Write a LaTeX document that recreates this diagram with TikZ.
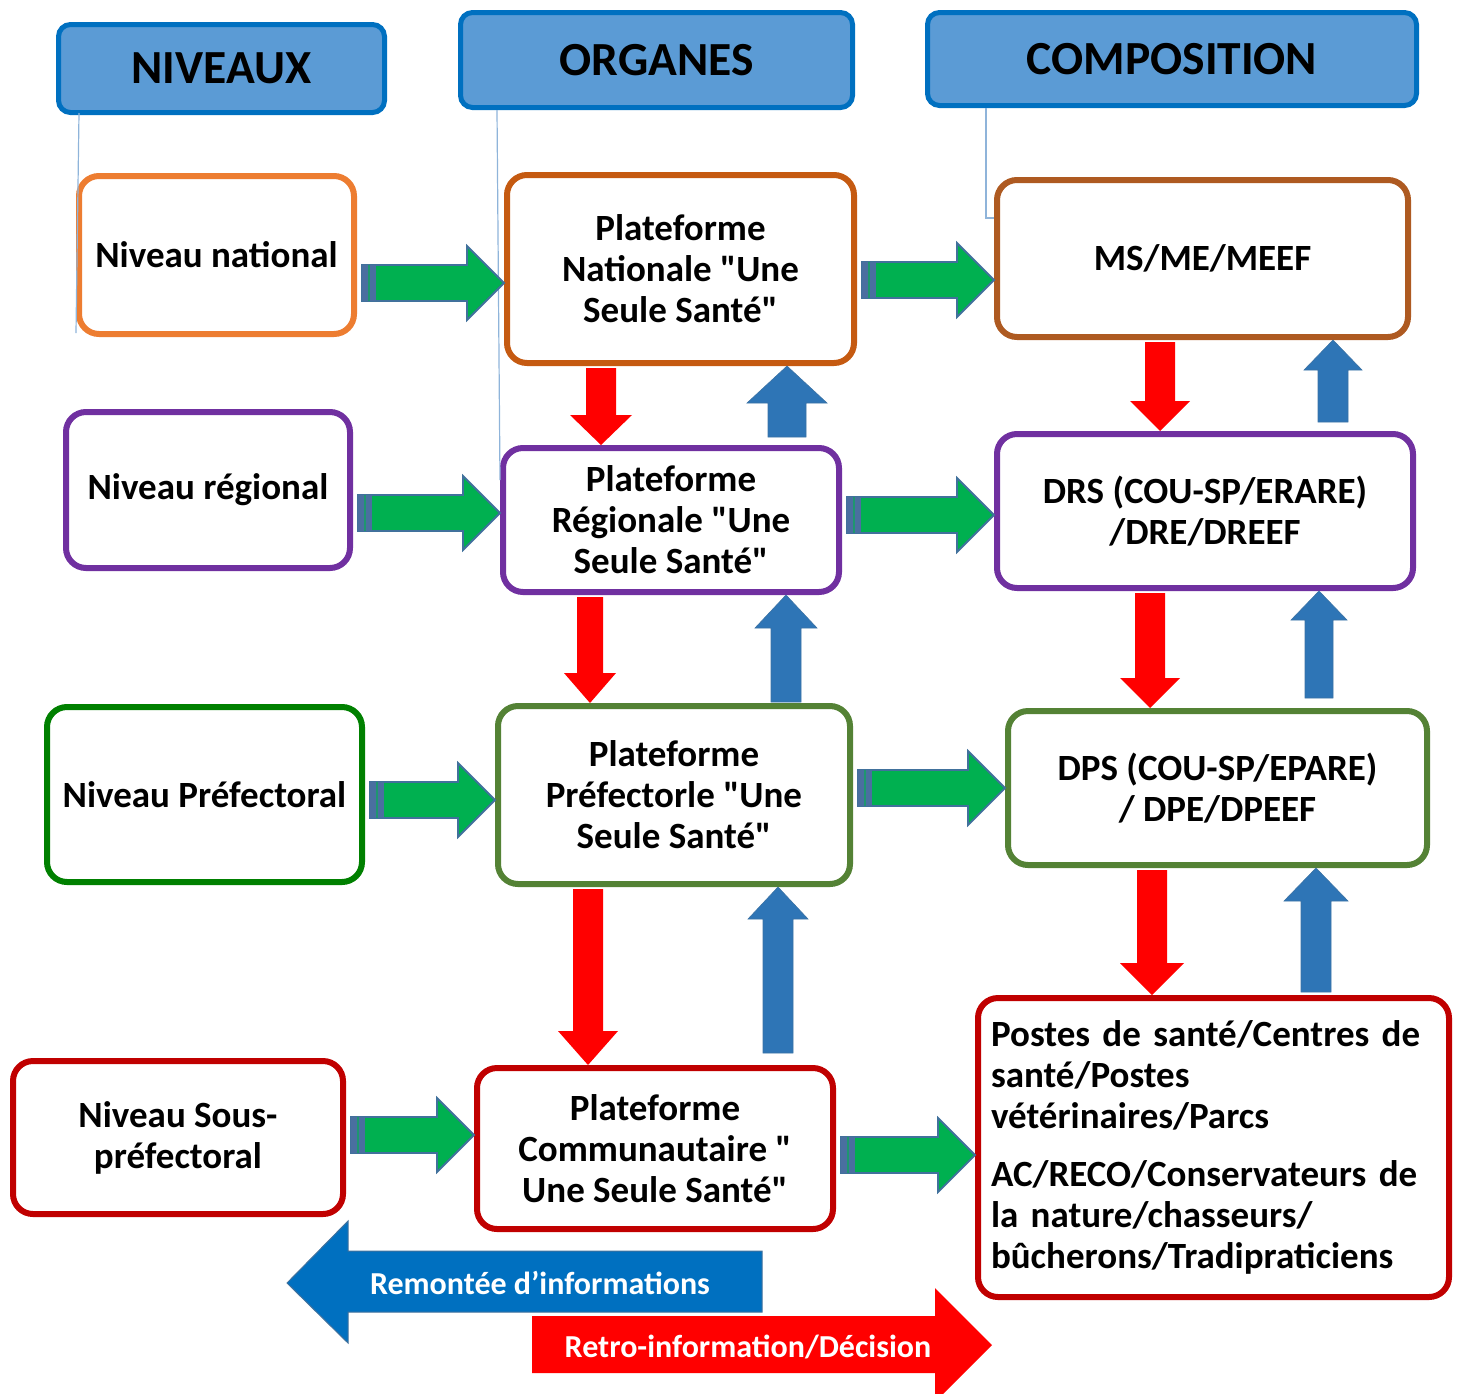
\documentclass[tikz,border=0pt]{standalone}
\usepackage{fontspec}
\setmainfont{Carlito}[Ligatures=TeXOff]
\usetikzlibrary{calc}
\definecolor{hdrfill}{HTML}{5B9BD5}
\definecolor{hdrline}{HTML}{0070C0}
\definecolor{cnat}{HTML}{ED7D31}
\definecolor{cpn}{HTML}{C55A11}
\definecolor{cms}{HTML}{AE5A21}
\definecolor{cpur}{HTML}{7030A0}
\definecolor{cgreen}{HTML}{008000}
\definecolor{colive}{HTML}{548235}
\definecolor{cred}{HTML}{C00000}
\definecolor{agreen}{HTML}{00B050}
\definecolor{aedge}{HTML}{41719C}
\definecolor{atail}{HTML}{4A6FA0}
\definecolor{ablue}{HTML}{2E75B6}
\definecolor{lblue}{HTML}{0070C0}
\definecolor{thinl}{HTML}{8FB4DA}
\newcommand\garr[3]{%
  \coordinate (gA) at ($(#1.east |- 0,#3)+(5,0)$);
  \coordinate (gB) at (#2.west |- 0,#3);
  \filldraw[garrow] ($(gA)+(0,-18)$) -- ($(gB)+(-37,-18)$) -- ($(gB)+(-37,-37)$) -- (gB)
     -- ($(gB)+(-37,37)$) -- ($(gB)+(-37,18)$) -- ($(gA)+(0,18)$) -- cycle;
  \fill[atail] ($(gA)+(0,-18)$) rectangle ($(gA)+(14,18)$);
  \draw[agreen!60!atail, line width=1.5pt] ($(gA)+(7,-18)$) -- ($(gA)+(7,18)$);
}
% red down: src tgt x shafthalf headhalf headlen
\newcommand\darr[6]{%
  \coordinate (vA) at ($(#1.south -| #3,0)+(0,2)$);
  \coordinate (vB) at (#2.north -| #3,0);
  \fill[red] ($(vA)+(-#4,0)$) -- ($(vB)+(-#4,-#6)$) -- ($(vB)+(-#5,-#6)$) -- (vB)
     -- ($(vB)+(#5,-#6)$) -- ($(vB)+(#4,-#6)$) -- ($(vA)+(#4,0)$) -- cycle;
}
% blue up: src(lower) tgt(upper) x shafthalf headhalf headlen gap
\newcommand\uarr[7]{%
  \coordinate (uA) at ($(#1.north -| #3,0)+(0,-#7)$);
  \coordinate (uB) at (#2.south -| #3,0);
  \filldraw[ablue, draw=aedge!70!ablue, line width=0.6pt] ($(uA)+(-#4,0)$) -- ($(uB)+(-#4,#6)$) -- ($(uB)+(-#5,#6)$) -- (uB)
     -- ($(uB)+(#5,#6)$) -- ($(uB)+(#4,#6)$) -- ($(uA)+(#4,0)$) -- cycle;
}
\begin{document}
\begin{tikzpicture}[x=1pt,y=-1pt,
  box/.style={draw, line width=6pt, rounded corners=20pt, fill=white, align=center,
    font=\bfseries\fontsize{37}{41}\selectfont, inner sep=0pt},
  hdr/.style={draw=hdrline, fill=hdrfill, line width=5pt, rounded corners=12pt,
    font=\bfseries\fontsize{47.5}{50}\selectfont, inner sep=0pt},
  garrow/.style={fill=agreen, draw=aedge, line width=1.8pt, line join=miter},
  thin/.style={draw=thinl, line width=1.2pt},
  legtext/.style={text=white, font=\bfseries\fontsize{32}{36}\selectfont}]
\useasboundingbox (0,0) rectangle (1462,1393);

% headers
\node[hdr, minimum width=326, minimum height=88] (hniv) at (221.5,68.5) {NIVEAUX};
\node[hdr, minimum width=392, minimum height=95] (horg) at (656.5,60) {ORGANES};
\node[hdr, minimum width=489, minimum height=93] (hcomp) at (1172,59) {COMPOSITION};

% left column
\node[box, draw=cnat, minimum width=275, minimum height=158] (nat) at (216.5,255) {Niveau national};
\node[box, draw=cpur, minimum width=284, minimum height=156] (reg) at (208,490) {Niveau régional};
\node[box, draw=cgreen, minimum width=315, minimum height=175] (pref) at (204.5,794.5) {Niveau Préfectoral};
\node[box, draw=cred, minimum width=330, minimum height=153] (sp) at (178,1137.5) {Niveau Sous-\\préfectoral};

% middle column
\node[box, draw=cpn, minimum width=347, minimum height=188] (pn) at (680.5,269) {Plateforme\\Nationale "Une\\Seule Santé"};
\node[box, draw=cpur, minimum width=336, minimum height=144] (pr) at (671,520) {Plateforme\\Régionale "Une\\Seule Santé"};
\node[box, draw=colive, minimum width=352, minimum height=178] (pp) at (674,795) {Plateforme\\Préfectorle "Une\\Seule Santé"};
\node[box, draw=cred, minimum width=356, minimum height=161] (pc) at (655,1148.5) {Plateforme\\Communautaire "\\Une Seule Santé"};

% right column
\node[box, draw=cms, minimum width=411, minimum height=157] (ms) at (1202.5,258.5) {MS/ME/MEEF};
\node[box, draw=cpur, minimum width=416, minimum height=154] (drs) at (1205,511) {DRS (COU-SP/ERARE)\\/DRE/DREEF};
\node[box, draw=colive, minimum width=419, minimum height=154] (dps) at (1217.5,788) {DPS (COU-SP/EPARE)\\/ DPE/DPEEF};
\node[box, draw=cred, minimum width=471, minimum height=299, align=left, text width=445] (postes) at (1213.5,1147.5)
  {Postes de santé/Centres de\\santé/Postes\\vétérinaires/Parcs\\[17pt]AC/RECO/Conservateurs de\\la nature/chasseurs/\\bûcherons/Tradipraticiens};

% thin header lines
\draw[thin] ($(hniv.south west)+(23,-2)$) -- ($(nat.south west)+(0,-4)$);
\draw[thin] ($(horg.south west)+(39,0)$) -- ($(pr.north west)+(0,35)$);
\draw[thin] ($(hcomp.south west)+(61,0)$) |- ($(ms.north west)+(0,41)$);

% green arrows
\garr{nat}{pn}{283}
\garr{pn}{ms}{280}
\garr{reg}{pr}{513}
\garr{pr}{drs}{515}
\garr{pref}{pp}{800}
\garr{pp}{dps}{788}
\garr{sp}{pc}{1135}
\garr{pc}{postes}{1155}

% red down arrows
\darr{pn}{pr}{601}{15}{31}{30}
\darr{pr}{pp}{590}{13}{26}{30}
\darr{pp}{pc}{588}{15}{30}{34}
\darr{ms}{drs}{1160}{15}{30}{30}
\darr{drs}{dps}{1150}{15}{30}{30}
\darr{dps}{postes}{1152}{15}{32}{32}

% blue up arrows
\uarr{pr}{pn}{787}{19}{40}{37}{8}
\uarr{pp}{pr}{786}{15}{31}{33}{1}
\uarr{pc}{pp}{778}{15}{30}{32}{12}
\uarr{drs}{ms}{1333}{15}{29}{30}{9}
\uarr{dps}{drs}{1319}{14}{28}{29}{10}
\uarr{postes}{dps}{1316}{15}{32}{33}{3}

% legend arrows
\filldraw[fill=lblue, draw=aedge, line width=1pt] (287,1283) -- (348,1221) -- (348,1251) -- (762,1251)
  -- (762,1312) -- (348,1312) -- (348,1343) -- cycle;
\node[legtext] (remontee) at (540,1283) {Remontée d’informations};
\fill[red] (532,1316) -- (935,1316) -- (935,1288) -- (992,1345) -- (935,1402) -- (935,1373) -- (532,1373) -- cycle;
\node[legtext] (retro) at (748,1347) {Retro-information/Décision};
\end{tikzpicture}
\end{document}
